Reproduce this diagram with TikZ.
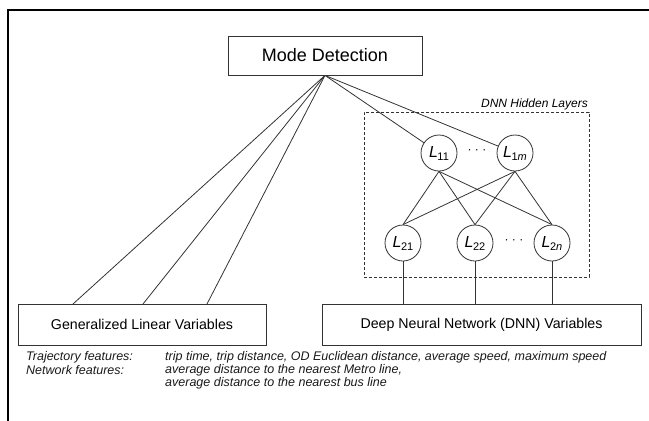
\documentclass[tikz,border=0pt]{standalone}
\usepackage{fontspec}
\setmainfont{Liberation Sans}
\newcommand{\neurlab}[1]{{\fontsize{16}{18}\selectfont\itshape L}\kern-0.5pt\raisebox{-3pt}{\fontsize{11}{12}\selectfont #1}}
\begin{document}
\begin{tikzpicture}[x=1pt,y=-1pt,
  ln/.style={draw=black!80, line width=0.8pt},
  box/.style={ln, rectangle, inner sep=0pt, font=\fontsize{14.2}{16}\selectfont},
  neuron/.style={ln, circle, minimum size=36pt, inner sep=0pt},
  note/.style={font=\fontsize{12.5}{14}\selectfont\itshape, anchor=west, inner sep=0pt, text=black!90},
  dotsnode/.style={font=\fontsize{12}{14}\selectfont, inner sep=0pt}]
\useasboundingbox (0,0) rectangle (649,421);
% outer frame
\draw[line width=2.5pt] (8,421) -- (8,10) -- (649,10);
% boxes
\node[box, minimum width=194pt, minimum height=39pt, font=\fontsize{18}{20}\selectfont] (mode) at (325,55.5) {Mode Detection};
\node[box, minimum width=248pt, minimum height=41pt] (glv) at (142,324.5) {Generalized Linear Variables};
\node[box, minimum width=319pt, minimum height=41pt] (dnnv) at (481.5,324.5) {Deep Neural Network (DNN) Variables};
\node[draw=black!80, line width=0.8pt, dash pattern=on 3pt off 2pt, minimum width=225pt, minimum height=165pt, inner sep=0pt] (hidden) at (476.5,194.5) {};
\node[anchor=base east, font=\fontsize{12}{14}\selectfont\itshape, inner sep=0pt] (hlabel) at (588,107.5) {DNN Hidden Layers};
% neurons
\node[neuron] (l11) at (439,153) {\neurlab{11}};
\node[neuron] (l1m) at (515,153) {\neurlab{1\textit{m}}};
\node[neuron] (l21) at (403,243) {\neurlab{21}};
\node[neuron] (l22) at (475,243) {\neurlab{22}};
\node[neuron] (l2n) at (552,243) {\neurlab{2\textit{n}}};
\node[dotsnode] (d1) at (477,152) {· · ·};
\node[dotsnode] (d2) at (514,242) {· · ·};
% connectors
\coordinate (g1) at (73,304);
\coordinate (g2) at (143,304);
\coordinate (g3) at (207,304);
\draw[ln] (mode.south) -- (g1);
\draw[ln] (mode.south) -- (g2);
\draw[ln] (mode.south) -- (g3);
\draw[ln] (mode.south) -- (l11);
\draw[ln] (mode.south) -- (l1m);
\foreach \a in {l11,l1m}
  \foreach \b in {l21,l22,l2n}
    \draw[ln] (\a.south) -- (\b.north);
\foreach \b in {l21,l22,l2n}
  \draw[ln] (\b.south) -- (\b.south |- dnnv.north);
% notes
\node[note] (t1) at (26,357) {Trajectory features:};
\node[note] (t2) at (165,357) {trip time, trip distance, OD Euclidean distance, average speed, maximum speed};
\node[note] (n1) at (26,370) {Network features:};
\node[note] (n2) at (165,370) {average distance to the nearest Metro line,};
\node[note] (n3) at (165,383) {average distance to the nearest bus line};
\end{tikzpicture}
\end{document}
